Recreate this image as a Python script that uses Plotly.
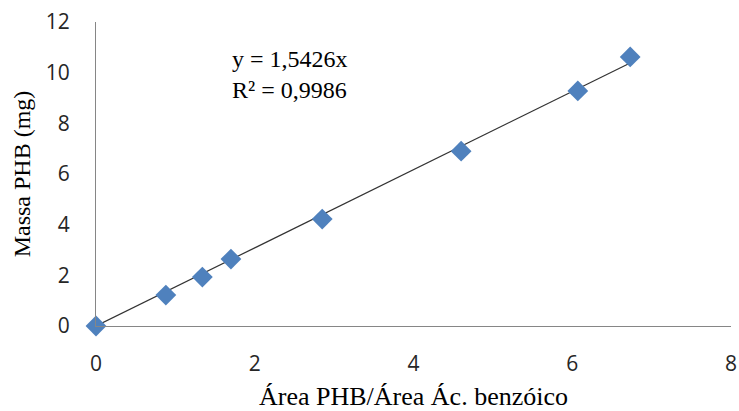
import plotly.graph_objects as go

area_ratio = [0, 0.88, 1.34, 1.70, 2.85, 4.60, 6.07, 6.73]
massa_phb = [0, 1.22, 1.93, 2.64, 4.22, 6.90, 9.28, 10.62]
slope = 1.5426
r2_text = "0,9986"
x_ticks = [0, 2, 4, 6, 8]
y_ticks = [0, 2, 4, 6, 8, 10, 12]

trend_x = [0, max(area_ratio)]
trend_y = [slope * v for v in trend_x]

fig = go.Figure()
fig.add_trace(go.Scatter(x=trend_x, y=trend_y, mode="lines",
                         line=dict(color="#333333", width=1.2), showlegend=False,
                         hoverinfo="skip", cliponaxis=False))
fig.add_trace(go.Scatter(x=area_ratio, y=massa_phb, mode="markers",
                         marker=dict(symbol="diamond", size=16, color="#4F81BD",
                                     line=dict(width=0)),
                         showlegend=False, cliponaxis=False))

fig.add_annotation(x=0, y=1, xref="paper", yref="paper",
                   text="y = 1,5426x<br>R² = " + r2_text,
                   showarrow=False, align="left", xanchor="left", yanchor="top",
                   xshift=134, yshift=-22,
                   font=dict(family="Liberation Serif", size=24, color="#000000"))

fig.update_layout(
    width=739, height=411,
    margin=dict(l=96, r=8, t=22, b=85),
    plot_bgcolor="white", paper_bgcolor="white",
    font=dict(family="Open Sans", size=21, color="#262626"),
)
fig.update_xaxes(range=[0, 8], tickvals=x_ticks, showgrid=False, zeroline=False,
                 showline=True, linecolor="#868686", linewidth=1,
                 ticks="outside", ticklen=19, tickcolor="rgba(0,0,0,0)",
                 automargin=False,
                 title=dict(text="Área PHB/Área Ác. benzóico",
                            font=dict(family="Liberation Serif", size=26, color="#000000"),
                            standoff=16))
fig.update_yaxes(range=[0, 12], tickvals=y_ticks, showgrid=False, zeroline=False,
                 showline=True, linecolor="#868686", linewidth=1,
                 ticks="outside", ticklen=21, tickcolor="rgba(0,0,0,0)",
                 automargin=False,
                 title=dict(text="Massa PHB (mg)",
                            font=dict(family="Liberation Serif", size=24, color="#000000"),
                            standoff=8))

fig.write_html("out.html")
